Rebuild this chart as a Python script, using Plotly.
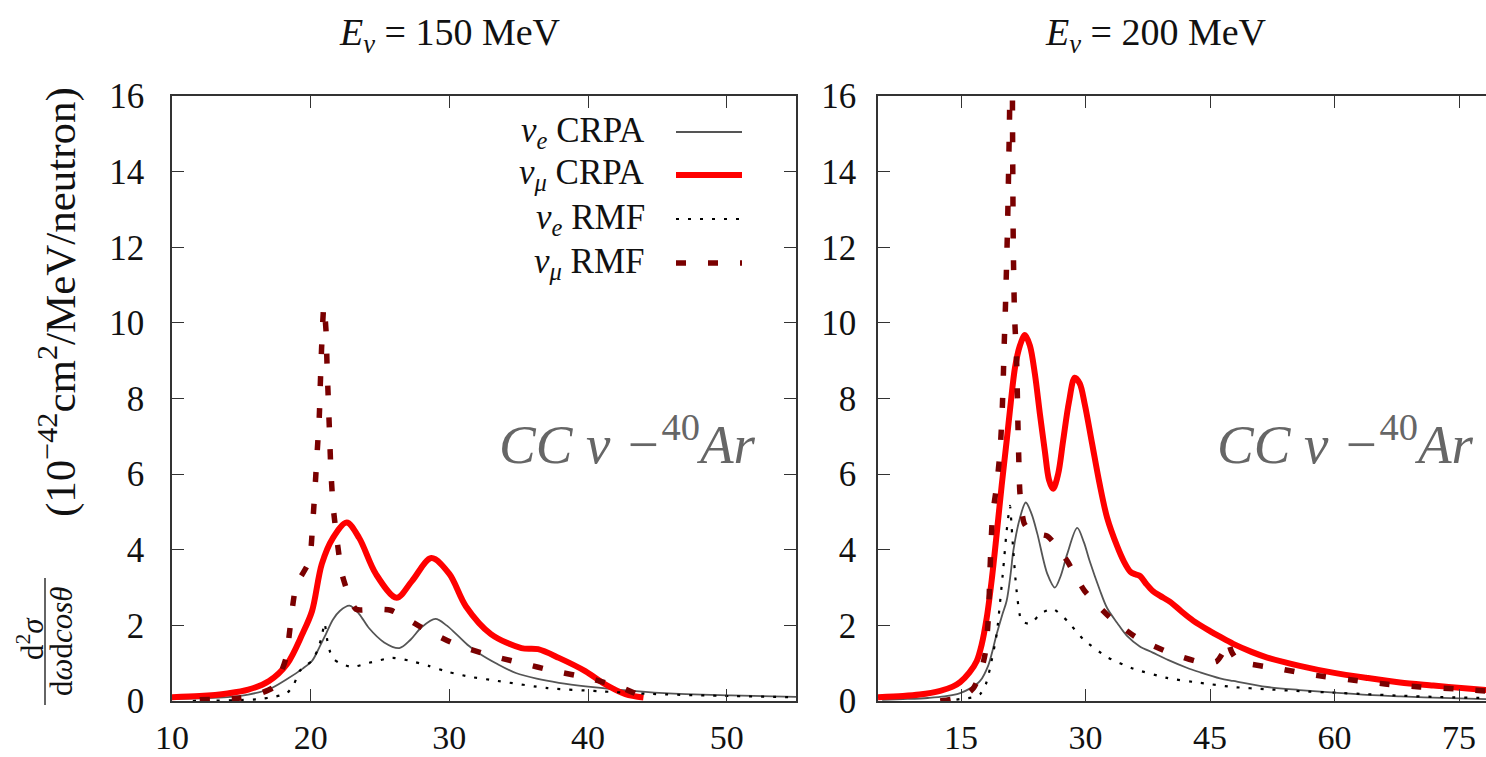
import plotly.graph_objects as go

W, H = 1486, 757

# ---------------- E_nu = 150 MeV ----------------
l_nue_crpa_x = [10, 12, 14, 15.5, 17, 18.3, 19.4, 20.1, 20.6, 21.1, 21.6, 22.1, 22.8, 23.5, 24.2, 25.3, 26.4,
                27.2, 28.0, 29.0, 29.8, 30.5, 31.4, 32.1, 33.5, 34.8, 36.3, 37.9, 40, 41.9, 45.5, 50.3, 55]
l_nue_crpa_y = [0.05, 0.07, 0.1, 0.17, 0.31, 0.58, 0.85, 1.06, 1.4, 1.77, 2.15, 2.38, 2.52, 2.3, 1.93, 1.55, 1.40,
                1.62, 1.95, 2.17, 2.0, 1.77, 1.46, 1.27, 0.97, 0.74, 0.59, 0.48, 0.38, 0.31, 0.21, 0.15, 0.11]

l_numu_crpa_x = [10, 12, 14, 15.5, 17, 18.3, 19.4, 20.1, 20.8, 21.6, 22.6, 23.5, 24.7, 26.2, 27.3, 28.7, 30.0,
                 31.2, 33.0, 35.2, 36.4, 37.9, 39.8, 41.2, 42.7, 44.0]
l_numu_crpa_y = [0.1, 0.13, 0.2, 0.3, 0.53, 0.98, 1.77, 2.38, 3.62, 4.31, 4.72, 4.31, 3.36, 2.73, 3.17, 3.78, 3.36,
                 2.5, 1.77, 1.40, 1.37, 1.14, 0.79, 0.45, 0.18, 0.09]

l_nue_rmf_x = [11.5, 13, 14.5, 16.3, 17.5, 18.3, 18.8, 19.2, 19.7, 20.1, 20.5, 20.8, 21.0, 21.2, 21.4, 21.7, 22.1,
               23.0, 24.2, 25.9, 27.2, 28.5, 30.0, 31.5, 33.5, 37.1, 40.7, 44.3, 50.3, 55]
l_nue_rmf_y = [0.0, 0.01, 0.02, 0.05, 0.12, 0.21, 0.45, 0.79, 0.95, 1.06, 1.35, 1.7, 2.06, 1.6, 1.3, 1.1, 1.0,
               0.9, 1.01, 1.14, 1.06, 0.93, 0.76, 0.64, 0.53, 0.34, 0.26, 0.19, 0.13, 0.1]

l_numu_rmf_x = [12, 13.5, 14.9, 16.2, 17.3, 17.8, 18.23, 18.95, 19.9, 20.14, 20.31, 20.46, 20.62, 20.7, 20.79,
                20.95, 21.1, 21.18, 21.27, 21.37, 21.46, 21.63, 21.94, 22.3, 23.26, 24.5, 25.77, 28.04, 30.2,
                32.6, 35.1, 37.6, 40.0, 42.5, 43.7]
l_numu_rmf_y = [0.03, 0.05, 0.08, 0.18, 0.36, 0.7, 1.15, 3.04, 3.70, 4.67, 5.60, 6.53, 7.50, 8.42, 9.35,
                10.45, 9.84, 8.9, 7.98, 7.0, 6.08, 5.11, 4.14, 3.30, 2.43, 2.43, 2.40, 1.94, 1.54,
                1.24, 1.01, 0.79, 0.61, 0.34, 0.15]

# ---------------- E_nu = 200 MeV ----------------
r_nue_crpa_x = [5.5, 8, 11, 13, 14.9, 16, 17.3, 18.3, 19.3, 20.0, 20.5, 21.0, 21.3, 22.1, 22.8, 23.5, 24.2, 25.4,
                26.3, 27.0, 27.8, 29.0, 29.8, 30.5, 31.7, 32.6, 33.8, 35.0, 36.5, 38.1, 40, 42.2, 43.8, 46.2,
                47.8, 51.9, 55.8, 60, 63.9, 68, 71.9, 78.3]
r_nue_crpa_y = [0.03, 0.05, 0.08, 0.12, 0.21, 0.32, 0.53, 0.95, 1.77, 2.3, 2.65, 3.4, 3.97, 4.84, 5.25, 4.95, 4.42,
                3.36, 3.0, 3.3, 3.89, 4.58, 4.2, 3.70, 2.95, 2.46, 2.07, 1.72, 1.45, 1.28, 1.08, 0.88, 0.76, 0.6,
                0.53, 0.37, 0.29, 0.22, 0.16, 0.12, 0.09, 0.05]

r_numu_crpa_x = [5, 8, 10, 12.5, 14, 14.9, 16, 16.9, 17.5, 18.1, 18.7, 19.3, 19.9, 20.5, 21.0, 21.5, 22.1, 22.7,
                 23.3, 23.9, 24.5, 25.1, 25.6, 26.1, 26.7, 27.3, 28.0, 28.7, 29.3, 29.9, 30.8, 31.7, 32.6, 33.8,
                 34.6, 35.4, 36.0, 36.6, 37.3, 38.1, 39.0, 40.2, 41.5, 43.0, 45, 46.2, 47.8, 50, 51.9, 55.8,
                 59.8, 63.9, 67.9, 71.9, 76, 78.3]
r_numu_crpa_y = [0.1, 0.13, 0.17, 0.27, 0.38, 0.5, 0.75, 1.06, 1.5, 2.2, 3.2, 4.42, 5.7, 6.88, 7.9, 8.81, 9.4, 9.68,
                 9.4, 8.65, 7.6, 6.61, 5.85, 5.61, 6.0, 6.88, 7.9, 8.55, 8.4, 7.86, 6.8, 5.74, 4.85, 4.1,
                 3.7, 3.42, 3.35, 3.3, 3.1, 2.91, 2.78, 2.62, 2.38, 2.12, 1.85, 1.7, 1.51, 1.3, 1.15, 0.93,
                 0.75, 0.61, 0.49, 0.41, 0.33, 0.29]

r_nue_rmf_x = [13, 14.9, 16.5, 17.3, 18, 18.5, 19.3, 19.7, 20.1, 20.5, 20.9, 21.1, 21.3, 21.7, 22.3, 23.3, 24.7,
               26.1, 27.8, 29.7, 32.6, 35.7, 39.8, 43.8, 47.8, 51.9, 55.8, 60, 63.9, 68, 71.9, 78.3]
r_nue_rmf_y = [0.0, 0.05, 0.1, 0.18, 0.45, 0.87, 1.77, 2.6, 3.52, 4.5, 5.16, 4.6, 3.97, 2.91, 2.12, 2.04, 2.33,
               2.43, 2.12, 1.64, 1.16, 0.86, 0.61, 0.48, 0.37, 0.31, 0.26, 0.22, 0.18, 0.14, 0.11, 0.08]

r_numu_rmf_x = [12.5, 14, 15.5, 16.5, 17.3, 17.9, 18.3, 18.5, 18.8, 19.3, 19.7, 19.95, 20.1, 20.2, 20.35, 20.6,
                20.85, 21.0, 21.1, 21.2, 21.3, 21.45, 21.7, 21.85, 21.95, 22.1, 22.6, 23.5, 25.4, 26.5, 27.8,
                29.9, 33.0, 36.2, 40.2, 44.2, 45.8, 46.6, 47.1, 47.6, 48.4, 49.2, 53.4, 57.4, 61.9, 66.1, 70.3,
                74.5, 78.3]
r_numu_rmf_y = [0.0, 0.05, 0.15, 0.34, 0.7, 1.24, 2.2, 3.5, 4.9, 5.7, 6.6, 7.6, 8.6, 9.4, 10.4, 12.5,
                15.5, 19.0, 19.0, 15.5, 12.0, 10.2, 9.0, 7.4, 6.5, 5.5, 4.7, 4.45, 4.36, 4.1, 3.7,
                2.91, 2.2, 1.67, 1.27, 1.01, 1.05, 1.3, 1.6, 1.3, 1.05, 1.0, 0.85, 0.69, 0.56, 0.45, 0.37,
                0.32, 0.26]

series_names = ["ν<sub>e</sub> CRPA", "ν<sub>μ</sub> CRPA", "ν<sub>e</sub> RMF", "ν<sub>μ</sub> RMF"]
legend_labels = ["<i>ν<sub>e</sub></i> CRPA", "<i>ν<sub>μ</sub></i> CRPA",
                 "<i>ν<sub>e</sub></i> RMF", "<i>ν<sub>μ</sub></i> RMF"]
panel_titles = ["<i>E<sub>ν</sub></i> = 150 MeV", "<i>E<sub>ν</sub></i> = 200 MeV"]
left_xticks = [10, 20, 30, 40, 50]
right_xticks = [15, 30, 45, 60, 75]
yticks = [0, 2, 4, 6, 8, 10, 12, 14, 16]

styles = [
    dict(color="#555555", width=1.8, dash="solid"),
    dict(color="#ff0000", width=6, dash="solid"),
    dict(color="#000000", width=2.2, dash="3px,9px"),
    dict(color="#7a0000", width=5.5, dash="10px,22px"),
]
smooth = [0.9, 0.9, 0.6, 0.6]

FONT = "Liberation Serif"
fig = go.Figure()

left = [(l_nue_crpa_x, l_nue_crpa_y), (l_numu_crpa_x, l_numu_crpa_y),
        (l_nue_rmf_x, l_nue_rmf_y), (l_numu_rmf_x, l_numu_rmf_y)]
right = [(r_nue_crpa_x, r_nue_crpa_y), (r_numu_crpa_x, r_numu_crpa_y),
         (r_nue_rmf_x, r_nue_rmf_y), (r_numu_rmf_x, r_numu_rmf_y)]

for (xs, ys), st, nm, sm in zip(left, styles, series_names, smooth):
    fig.add_trace(go.Scatter(x=xs, y=ys, mode="lines", name=nm, showlegend=False,
                             line=dict(shape="spline", smoothing=sm, **st),
                             xaxis="x", yaxis="y"))
for (xs, ys), st, nm, sm in zip(right, styles, series_names, smooth):
    fig.add_trace(go.Scatter(x=xs, y=ys, mode="lines", name=nm, showlegend=False,
                             line=dict(shape="spline", smoothing=sm, **st),
                             xaxis="x2", yaxis="y2"))

def px2x(p):
    return p / W

def px2y(p):
    return (H - p) / H

ydom = [px2y(701), px2y(96)]
axis_common = dict(showline=True, linecolor="#333333", linewidth=1.5, ticks="inside", ticklen=12,
                   tickwidth=1.3, tickcolor="#333333", showgrid=False, zeroline=False, automargin=False)
yfont = dict(family=FONT, size=35, color="#111111")
xfont = dict(family=FONT, size=34, color="#111111")

fig.update_layout(
    width=W, height=H, margin=dict(l=0, r=0, t=0, b=0, autoexpand=False),
    paper_bgcolor="white", plot_bgcolor="white", showlegend=False,
    xaxis=dict(domain=[px2x(172), px2x(796)], range=[10, 55], tickvals=left_xticks, mirror="ticks",
               anchor="y", ticklabelstandoff=5, tickfont=xfont, **axis_common),
    yaxis=dict(domain=ydom, range=[0, 16], tickvals=yticks, mirror="ticks", anchor="x",
               ticklabelstandoff=19, tickfont=yfont, **axis_common),
    xaxis2=dict(domain=[px2x(878), 1.0], range=[5, 78.25], tickvals=right_xticks, mirror="ticks",
                anchor="y2", ticklabelstandoff=5, tickfont=xfont, **axis_common),
    yaxis2=dict(domain=ydom, range=[0, 16], tickvals=yticks, mirror=False, anchor="x2",
                ticklabelstandoff=13, tickfont=yfont, **axis_common),
)

ann = []
# panel titles
for t, cx in zip(panel_titles, [450, 1156]):
    ann.append(dict(text=t, x=px2x(cx), y=px2y(35), xref="paper", yref="paper", xanchor="center",
                    yanchor="middle", showarrow=False, font=dict(family=FONT, size=38, color="#111111")))
# CC nu - Ar labels
for cx in [627, 1345]:
    ann.append(dict(text="<i>CC ν −</i><sup>40</sup><i>Ar</i>", x=px2x(cx), y=px2y(440), xref="paper",
                    yref="paper", xanchor="center", yanchor="middle", showarrow=False,
                    font=dict(family=FONT, size=55, color="#666666")))
# legend (text right-aligned, sample on the right)
leg_rows = [132, 175, 219, 263]
for lab, ry in zip(legend_labels, leg_rows):
    ann.append(dict(text=lab, x=px2x(647), y=px2y(ry), xref="paper", yref="paper", xanchor="right",
                    yanchor="middle", showarrow=False, font=dict(family=FONT, size=35, color="#111111")))
shapes = []
for st, ry in zip(styles, leg_rows):
    shapes.append(dict(type="line", xref="paper", yref="paper", x0=px2x(676), x1=px2x(742),
                       y0=px2y(ry), y1=px2y(ry), line=dict(color=st["color"], width=st["width"], dash=st["dash"])))
# y axis title
ann.append(dict(text="(10<sup>−42</sup>cm<sup>2</sup>/MeV/neutron)", x=px2x(57), y=px2y(302), xref="paper",
                yref="paper", xanchor="center", yanchor="middle", textangle=-90, showarrow=False,
                font=dict(family=FONT, size=43, color="#111111")))
ann.append(dict(text="d<sup>2</sup><i>σ</i>", x=px2x(30), y=px2y(638), xref="paper", yref="paper",
                xanchor="center", yanchor="middle", textangle=-90, showarrow=False,
                font=dict(family=FONT, size=31, color="#111111")))
ann.append(dict(text="d<i>ω</i>d<i>cosθ</i>", x=px2x(61), y=px2y(642), xref="paper", yref="paper",
                xanchor="center", yanchor="middle", textangle=-90, showarrow=False,
                font=dict(family=FONT, size=31, color="#111111")))
shapes.append(dict(type="line", xref="paper", yref="paper", x0=px2x(45), x1=px2x(45), y0=px2y(578),
                   y1=px2y(705), line=dict(color="#111111", width=1.3)))

fig.update_layout(annotations=ann, shapes=shapes)
fig.write_html("out.html")
